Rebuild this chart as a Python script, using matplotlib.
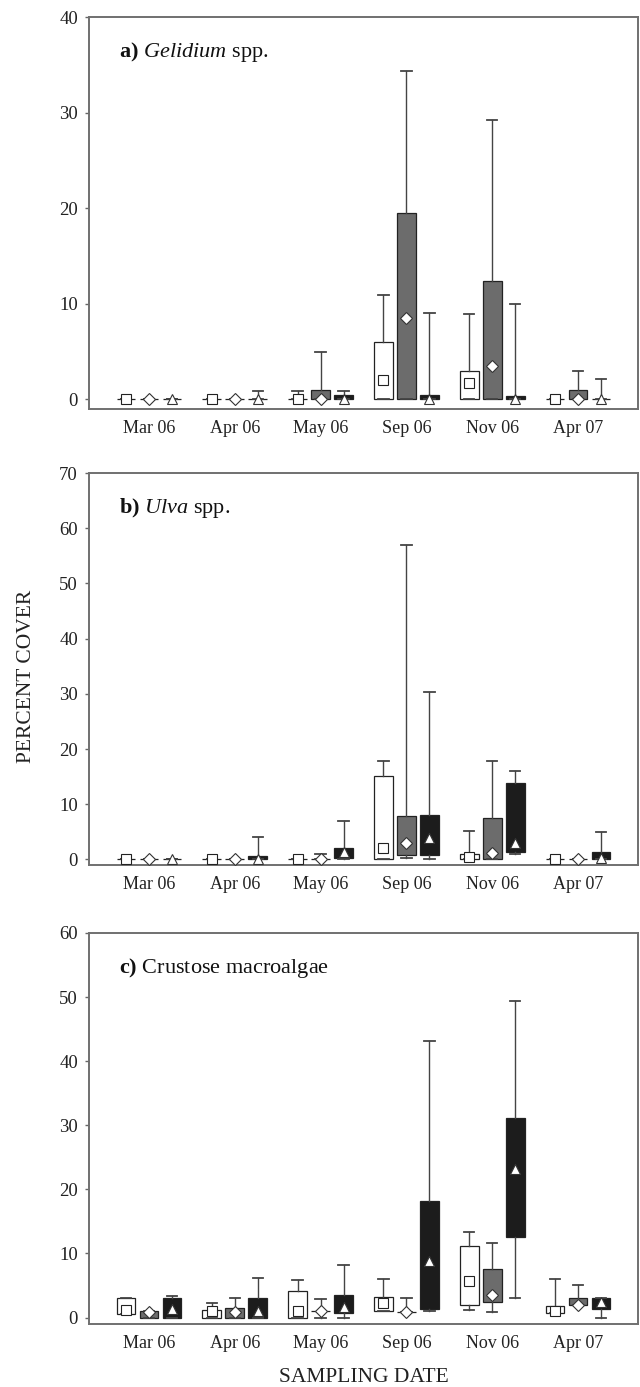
import matplotlib
matplotlib.use("Agg")
import matplotlib.pyplot as plt

plt.rcParams['font.family'] = ['Liberation Serif', 'DejaVu Serif']
plt.rcParams['mathtext.fontset'] = 'custom'
plt.rcParams['mathtext.rm'] = 'Liberation Serif'
plt.rcParams['mathtext.it'] = 'Liberation Serif:italic'
plt.rcParams['mathtext.bf'] = 'Liberation Serif:bold'

dates = ["Mar 06", "Apr 06", "May 06", "Sep 06", "Nov 06", "Apr 07"]
treatments = ["white", "gray", "black"]

# ---- Panel a: Gelidium spp. ----
a_white_q1 = [0, 0, 0, 0, 0, 0]
a_white_q3 = [0, 0, 0, 6.0, 3.0, 0]
a_white_lo = [0, 0, 0, 0, 0, 0]
a_white_hi = [0, 0, 0.9, 10.9, 8.9, 0]
a_white_md = [0, 0, 0, 2.0, 1.7, 0]
a_gray_q1 = [0, 0, 0, 0, 0, 0]
a_gray_q3 = [0, 0, 1.0, 19.5, 12.4, 1.0]
a_gray_lo = [0, 0, 0, 0, 0, 0]
a_gray_hi = [0, 0, 5.0, 34.3, 29.2, 3.0]
a_gray_md = [0, 0, 0, 8.5, 3.5, 0]
a_black_q1 = [0, 0, 0, 0, 0, 0]
a_black_q3 = [0, 0, 0.5, 0.5, 0.4, 0]
a_black_lo = [0, 0, 0, 0, 0, 0]
a_black_hi = [0, 0.9, 0.9, 9.0, 10.0, 2.1]
a_black_md = [0, 0, 0, 0, 0, 0]

# ---- Panel b: Ulva spp. ----
b_white_q1 = [0, 0, 0, 0, 0, 0]
b_white_q3 = [0, 0, 0, 15.1, 1.0, 0]
b_white_lo = [0, 0, 0, 0, 0, 0]
b_white_hi = [0, 0, 0, 17.9, 5.1, 0]
b_white_md = [0, 0, 0, 2.1, 0.4, 0]
b_gray_q1 = [0, 0, 0, 0.9, 0, 0]
b_gray_q3 = [0, 0, 0, 7.8, 7.5, 0]
b_gray_lo = [0, 0, 0, 0.24, 0, 0]
b_gray_hi = [0, 0, 1.0, 57.0, 17.9, 0]
b_gray_md = [0, 0, 0, 3.0, 1.1, 0]
b_black_q1 = [0, 0, 0.2, 0.9, 1.3, 0]
b_black_q3 = [0, 0.55, 2.1, 8.1, 13.8, 1.3]
b_black_lo = [0, 0, 0, 0, 1.0, 0]
b_black_hi = [0, 4.1, 6.9, 30.3, 16.1, 4.9]
b_black_md = [0, 0, 1.3, 3.8, 3.0, 0.2]

# ---- Panel c: Crustose macroalgae ----
c_white_q1 = [0.6, 0, 0, 1.0, 1.9, 0.7]
c_white_q3 = [3.1, 1.2, 4.1, 3.2, 11.1, 1.8]
c_white_lo = [0.6, 0, 0, 1.0, 1.2, 0.7]
c_white_hi = [3.1, 2.2, 5.9, 6.0, 13.3, 6.0]
c_white_md = [1.2, 1.0, 1.0, 2.2, 5.7, 1.1]
c_gray_q1 = [0, 0, 1.0, 0.9, 2.4, 1.9]
c_gray_q3 = [1.0, 1.5, 1.0, 0.9, 7.6, 3.0]
c_gray_lo = [0, 0, 0, 0.9, 0.9, 1.9]
c_gray_hi = [1.0, 3.1, 2.9, 3.1, 11.6, 5.1]
c_gray_md = [0.9, 0.9, 1.0, 0.9, 3.6, 1.9]
c_black_q1 = [0, 0, 0.7, 1.3, 12.5, 1.4]
c_black_q3 = [3.1, 3.1, 3.6, 18.2, 31.1, 3.1]
c_black_lo = [0, 0, 0, 1.0, 3.1, 0]
c_black_hi = [3.4, 6.2, 8.2, 43.1, 49.4, 3.1]
c_black_md = [1.3, 1.0, 1.7, 8.8, 23.2, 2.4]

panels = [
    dict(label="a", title=r"$\mathbf{a)}$ $\mathit{Gelidium}$ spp.", ymax=40, yticks=[0, 10, 20, 30, 40],
         data=[(a_white_q1, a_white_q3, a_white_lo, a_white_hi, a_white_md),
               (a_gray_q1, a_gray_q3, a_gray_lo, a_gray_hi, a_gray_md),
               (a_black_q1, a_black_q3, a_black_lo, a_black_hi, a_black_md)]),
    dict(label="b", title=r"$\mathbf{b)}$ $\mathit{Ulva}$ spp.", ymax=70, yticks=[0, 10, 20, 30, 40, 50, 60, 70],
         data=[(b_white_q1, b_white_q3, b_white_lo, b_white_hi, b_white_md),
               (b_gray_q1, b_gray_q3, b_gray_lo, b_gray_hi, b_gray_md),
               (b_black_q1, b_black_q3, b_black_lo, b_black_hi, b_black_md)]),
    dict(label="c", title=r"$\mathbf{c)}$ Crustose macroalgae", ymax=60, yticks=[0, 10, 20, 30, 40, 50, 60],
         data=[(c_white_q1, c_white_q3, c_white_lo, c_white_hi, c_white_md),
               (c_gray_q1, c_gray_q3, c_gray_lo, c_gray_hi, c_gray_md),
               (c_black_q1, c_black_q3, c_black_lo, c_black_hi, c_black_md)]),
]

fills = ["white", "#6c6c6c", "#1c1c1c"]
markers = ["s", "D", "^"]
msizes = [6.5, 6.0, 6.5]
offsets = [-0.268, 0.0, 0.268]

fig = plt.figure(figsize=(6.4, 13.87), dpi=100)
W, H = 640, 1387
boxes_px = [(17, 409), (473, 865), (933, 1324)]
left_px, right_px = 89, 638

for p, (top, bot) in zip(panels, boxes_px):
    ax = fig.add_axes([left_px / W, 1 - bot / H, (right_px - left_px) / W, (bot - top) / H])
    for ti, (q1, q3, lo, hi, md) in enumerate(p["data"]):
        stats = []
        for i in range(len(dates)):
            stats.append(dict(med=md[i], q1=q1[i], q3=q3[i], whislo=lo[i], whishi=hi[i], mean=md[i]))
        pos = [i + offsets[ti] for i in range(len(dates))]
        ax.bxp(stats, positions=pos, widths=0.22, capwidths=0.12, patch_artist=True,
               showmeans=True, meanline=False, showfliers=False,
               boxprops=dict(facecolor=fills[ti], edgecolor="#222222", linewidth=0.9),
               whiskerprops=dict(color="#444444", linewidth=1.0),
               capprops=dict(color="#444444", linewidth=1.3),
               medianprops=dict(linewidth=0, alpha=0),
               meanprops=dict(marker=markers[ti], markerfacecolor="white",
                              markeredgecolor="#222222" if ti == 0 else "#333333",
                              markeredgewidth=0.8, markersize=msizes[ti], zorder=5),
               manage_ticks=False)
    ax.set_xlim(-0.70, 5.70)
    ax.set_ylim(-1.0, p["ymax"])
    ax.set_xticks(range(len(dates)))
    ax.set_xticklabels(dates)
    ax.set_yticks(p["yticks"])
    ax.tick_params(axis="x", length=0, pad=8, labelsize=13, colors="#222222")
    ax.tick_params(axis="y", length=3, width=1, direction="out", pad=5, labelsize=13.5,
                   color="#666666", labelcolor="#222222")
    for s in ax.spines.values():
        s.set_color("#707070")
        s.set_linewidth(1.4)
    ax.text(0.055, 0.911, p["title"], transform=ax.transAxes, fontsize=16,
            ha="left", va="center", color="#111111")

fig.text(27 / W, 1 - 676 / H, "PERCENT COVER", rotation=90, ha="center", va="center",
         fontsize=15.5, color="#222222")
fig.text((left_px + right_px) / 2 / W, 1 - 1377 / H, "SAMPLING DATE", ha="center", va="center",
         fontsize=15.5, color="#222222")

fig.savefig("out.png", dpi=100, facecolor="white")
